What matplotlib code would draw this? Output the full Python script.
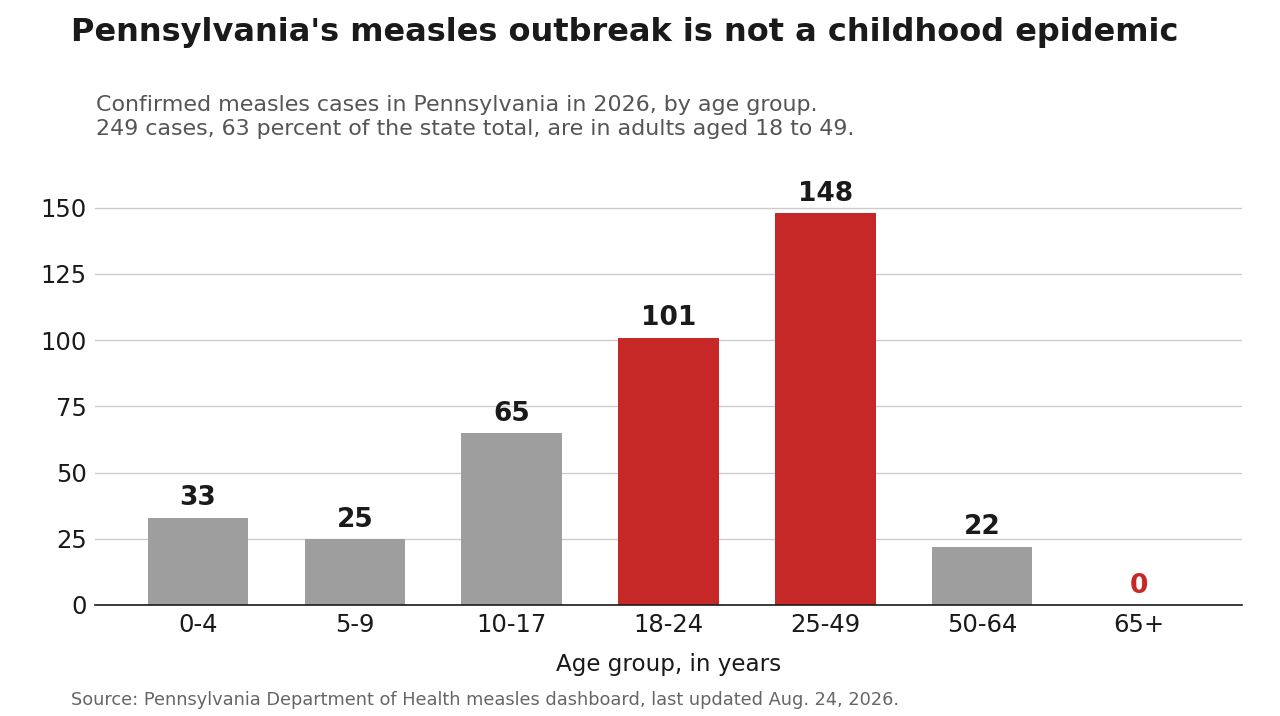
import matplotlib
matplotlib.use("Agg")
import matplotlib.pyplot as plt

plt.rcParams['font.family'] = ['DejaVu Sans']

# data
age_groups = ['0-4', '5-9', '10-17', '18-24', '25-49', '50-64', '65+']
cases = [33, 25, 65, 101, 148, 22, 0]
highlight = [False, False, False, True, True, False, False]

GRAY = '#9e9e9e'
RED = '#c62828'
DARK = '#1a1a1a'

fig = plt.figure(figsize=(12.8, 7.16), dpi=100)
ax = fig.add_axes([95 / 1280, 1 - 605 / 716, (1242 - 95) / 1280, (605 - 168) / 716])

colors = [RED if h else GRAY for h in highlight]
x = list(range(len(age_groups)))
ax.bar(x, cases, width=0.64, color=colors, zorder=3)

for xi, v, h in zip(x, cases, highlight):
    lab_col = RED if (v == 0) else DARK
    ax.annotate(str(v), (xi, v), xytext=(0, 4.5), textcoords='offset points',
                ha='center', va='bottom', fontsize=19, fontweight='bold',
                color=lab_col)

ax.set_xlim(-0.656, 6.656)
ax.set_ylim(0, 165)
ax.set_yticks([0, 25, 50, 75, 100, 125, 150])
ax.set_xticks(x)
ax.set_xticklabels(age_groups)
ax.tick_params(axis='both', length=0, labelsize=17.5, colors=DARK)
ax.tick_params(axis='x', pad=6)
ax.tick_params(axis='y', pad=6)
ax.yaxis.grid(True, color='#cccccc', linewidth=1, zorder=0)
for s in ['top', 'right', 'left']:
    ax.spines[s].set_visible(False)
ax.spines['bottom'].set_color(DARK)
ax.spines['bottom'].set_linewidth(1.2)
ax.spines['bottom'].set_zorder(4)
ax.set_xlabel('Age group, in years', fontsize=16.6, color=DARK, labelpad=11)

fig.text(71 / 1280, 1 - 33 / 716, "Pennsylvania's measles outbreak is not a childhood epidemic",
         fontsize=23, fontweight='bold', color=DARK, va='center', ha='left')
fig.text(96 / 1280, 1 - 117 / 716,
         "Confirmed measles cases in Pennsylvania in 2026, by age group.\n"
         "249 cases, 63 percent of the state total, are in adults aged 18 to 49.",
         fontsize=15.9, color='#555555', va='center', ha='left', linespacing=1.2)
fig.text(71 / 1280, 1 - 700 / 716,
         "Source: Pennsylvania Department of Health measles dashboard, last updated Aug. 24, 2026.",
         fontsize=12.8, color='#666666', va='center', ha='left')

fig.savefig('out.png', dpi=100)
